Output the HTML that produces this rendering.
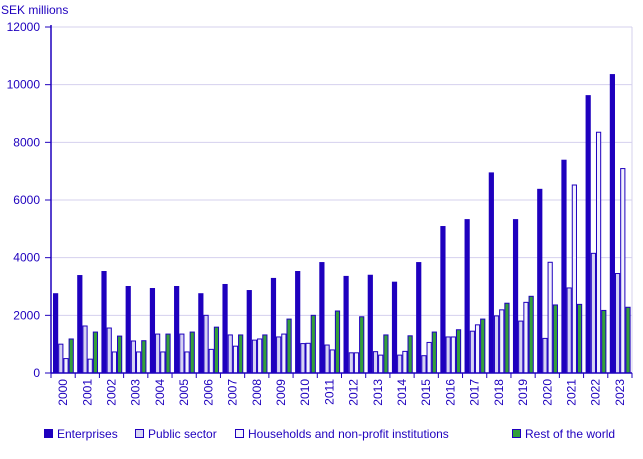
<!DOCTYPE html>
<html><head><meta charset="utf-8"><style>
body{margin:0;background:#fff;font-family:"Liberation Sans",sans-serif;}
svg text{font-family:"Liberation Sans",sans-serif;fill:#1e00be;font-size:12px;}
</style></head><body>
<svg width="643" height="454">
<g id="grid"></g><g id="bars"></g><g id="axes"></g><g id="legend"></g>
</svg>
<script>
const years=["2000","2001","2002","2003","2004","2005","2006","2007","2008","2009","2010","2011","2012","2013","2014","2015","2016","2017","2018","2019","2020","2021","2022","2023"];
const enterprises=[2750,3380,3520,3000,2930,3000,2750,3070,2860,3280,3520,3830,3350,3390,3150,3830,5080,5320,6940,5320,6370,7380,9620,10350];
const publicSector=[1000,1630,1560,1110,1350,1350,2000,1320,1140,1250,1020,970,700,740,620,600,1250,1450,1980,1800,1200,2950,4150,3450];
const households=[500,480,730,730,730,730,820,930,1180,1350,1030,800,700,620,750,1060,1250,1670,2190,2450,3840,6520,8350,7090];
const restOfWorld=[1180,1420,1280,1120,1350,1420,1590,1320,1320,1870,2000,2150,1950,1320,1290,1420,1500,1870,2420,2660,2360,2380,2170,2280];
const yTicks=[0,2000,4000,6000,8000,10000,12000];
const NS="http://www.w3.org/2000/svg";
const x0=51,x1=632,y0=373,y1=27,ymax=12000;
const gw=(x1-x0)/years.length;
const ys=v=>y0-(v/ymax)*(y0-y1);
function mk(tag,attrs,parent){const e=document.createElementNS(NS,tag);for(const k in attrs)e.setAttribute(k,attrs[k]);parent.appendChild(e);return e;}
const grid=document.getElementById('grid'),bars=document.getElementById('bars'),axes=document.getElementById('axes'),leg=document.getElementById('legend');
yTicks.forEach(t=>{
 if(t>0){const l=mk('line',{x1:x0,x2:x1,y1:ys(t),y2:ys(t),stroke:'#d4d0ee','stroke-width':1},grid);
 
 }
 const tk=mk('line',{x1:x0-6,x2:x0,y1:ys(t),y2:ys(t),stroke:'#1e00be'},axes);
 
 
 const tx=mk('text',{x:40,y:ys(t)+4,'text-anchor':'end'},axes);tx.textContent=t;
 
 
});
mk('line',{x1:x1,x2:x1,y1:y1,y2:y0,stroke:'#d4d0ee'},grid);
const series=[
 {d:enterprises,fill:'#1e00be',stroke:'#1e00be',name:'Enterprises'},
 {d:publicSector,fill:'#d6d3f3',stroke:'#1e00be',name:'Public sector'},
 {d:households,fill:'#f3f2fd',stroke:'#1e00be',name:'Households and non-profit institutions'},
 {d:restOfWorld,fill:'#34a03a',stroke:'#1e00be',name:'Rest of the world'}];
const bw=5.2;
years.forEach((yr,i)=>{
 const gx=x0+i*gw;
 series.forEach((s,j)=>{
  const v=s.d[i];const bx=gx+2+j*bw;
  const r=mk('rect',{x:bx+0.5,y:ys(v),width:bw-1,height:y0-ys(v),fill:s.fill,stroke:s.stroke,'stroke-width':1},bars);
  
  
 });
 const tk=mk('line',{x1:gx,x2:gx,y1:y0,y2:y0+5,stroke:'#1e00be'},axes);
 
 
 const cx=gx+gw/2+4;
 const t=mk('text',{x:cx,y:y0+6,'text-anchor':'end',transform:`rotate(-90 ${cx} ${y0+6})`},axes);t.textContent=yr;
 
 
});
mk('line',{x1:x1,x2:x1,y1:y0,y2:y0+5,stroke:'#1e00be'},axes);
const ax=mk('line',{x1:x0,x2:x0,y1:y1-2,y2:y0,stroke:'#1e00be','stroke-width':1.5},axes);


const bx=mk('line',{x1:x0,x2:x1,y1:y0,y2:y0,stroke:'#1e00be','stroke-width':1.5},axes);


const title=mk('text',{x:1,y:14},axes);title.textContent='SEK millions';


const lx=[44,135,235,512];
series.forEach((s,j)=>{
 const g=mk('g',{},leg);
 
 
 mk('rect',{x:lx[j]+0.5,y:429.5,width:8,height:8,fill:s.fill,stroke:s.stroke},g);
 const t=mk('text',{x:lx[j]+13,y:438},g);t.textContent=s.name;
});
</script>
</body></html>
